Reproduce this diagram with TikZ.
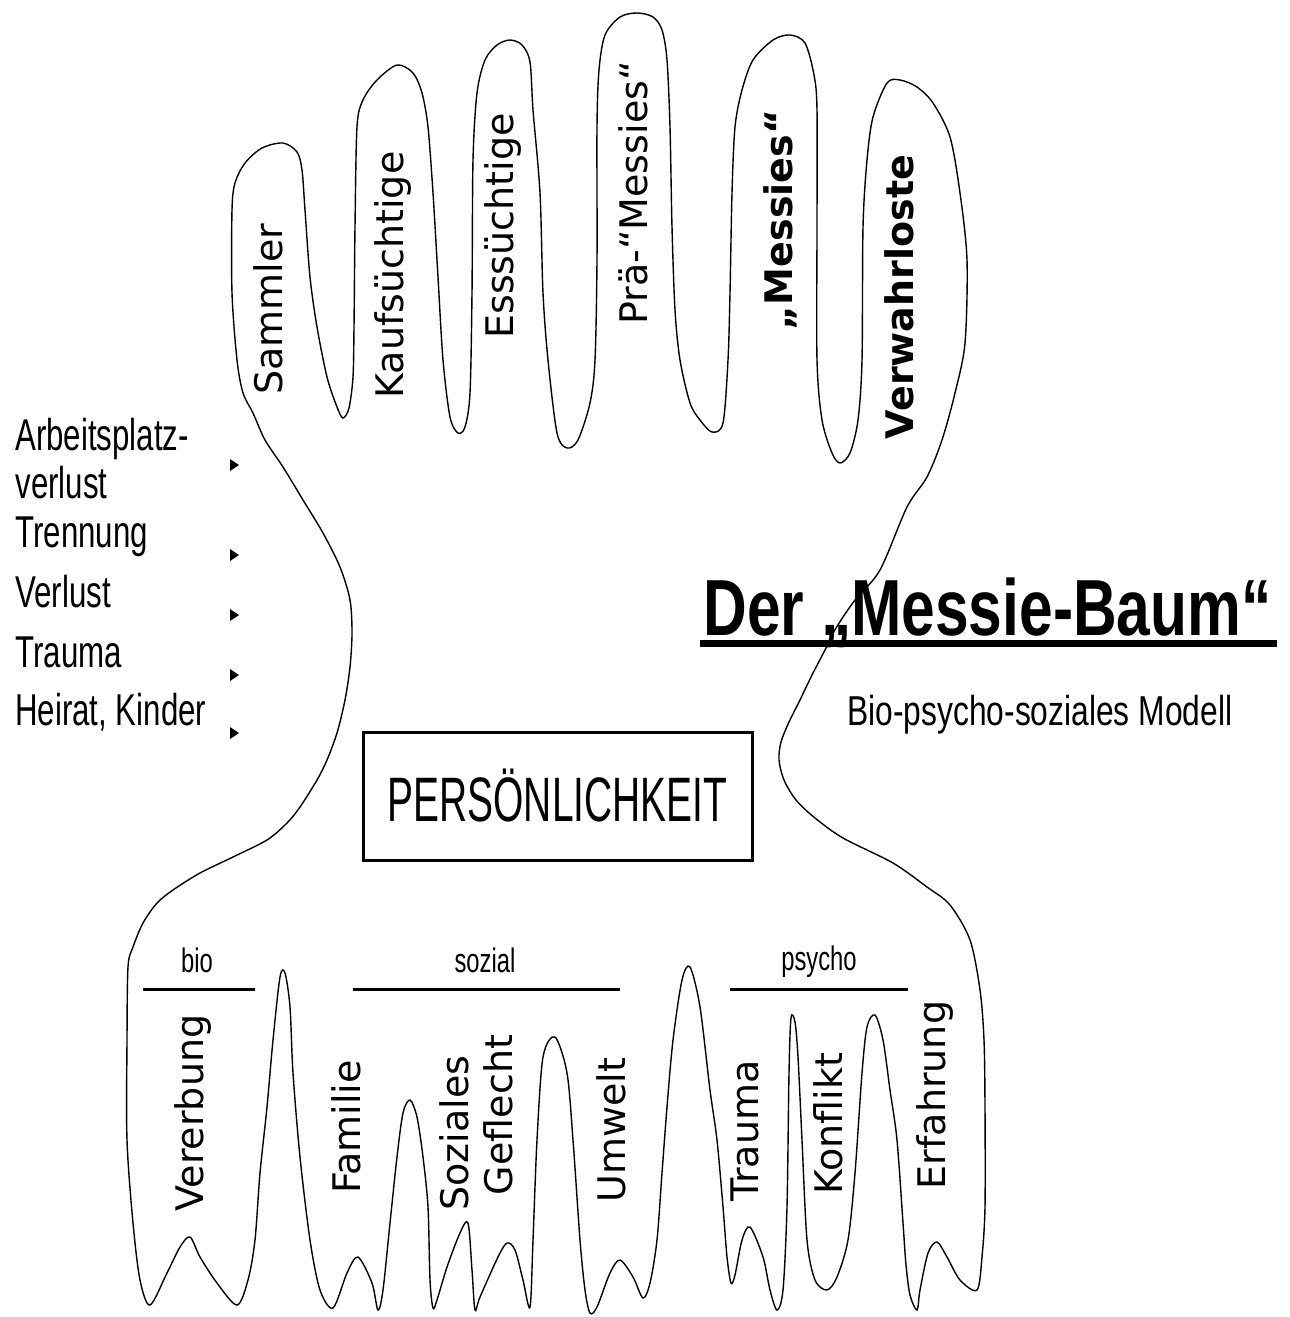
\documentclass[tikz,border=0pt]{standalone}
\usepackage{fontspec}
\newfontfamily\labelfont{DejaVu Sans}
\newfontfamily\condfont[FakeStretch=0.7]{Liberation Sans}
\newfontfamily\titlefont[FakeStretch=0.76]{Liberation Sans}
\newfontfamily\boxfont[FakeStretch=0.62]{Liberation Sans}
\usepackage{tikz}
\usetikzlibrary{positioning}
\tikzset{
  finger/.style={rotate=90, anchor=base, inner sep=0pt, font=\labelfont\fontsize{19}{22}\selectfont},
  boldfinger/.style={finger, font=\labelfont\bfseries\fontsize{19}{22}\selectfont},
  event/.style={anchor=base west, inner sep=0pt, align=left, font=\condfont\fontsize{22.3}{24}\selectfont},
  group/.style={anchor=base, inner sep=0pt, font=\condfont\fontsize{17}{20}\selectfont},
  outline/.style={line width=0.7pt},
}

\begin{document}
\begin{tikzpicture}[x=0.5pt, y=-0.5pt]
  \useasboundingbox (0,0) rectangle (1290,1317);

  % Tree outline
  \draw[outline] plot[smooth cycle, tension=0.5] coordinates {
    (127,1140) (127,1040) (128,967) (133,947) (143,923) (157,903) (173,890)
    (200,873) (233,857) (267,840) (287,823) (300,807) (317,780) (327,760)
    (337,733) (345,700) (350,667) (352,633) (350,600) (340,567) (323,533)
    (303,500) (283,467) (265,440) (253,413) (243,393) (237,360) (232,293)
    (232,210) (235,183) (245,163) (262,148) (283,143) (297,152) (302,170)
    (305,210) (310,277) (317,327) (327,377) (337,407) (343,418) (349,408)
    (353,377) (354,327) (355,227) (357,127) (363,100) (377,80) (397,65)
    (413,73) (422,93) (428,127) (433,193) (438,277) (443,360) (450,417)
    (458,433) (465,427) (470,393) (472,293) (473,160) (477,93) (485,60)
    (497,45) (510,40) (522,45) (530,62) (533,110) (540,193) (543,293)
    (548,360) (557,433) (567,448) (578,440) (590,403) (595,360) (597,260)
    (597,127) (599,70) (605,35) (620,17) (637,13) (653,17) (662,30)
    (667,60) (670,127) (672,227) (675,310) (680,360) (690,403) (700,420)
    (712,432) (723,423) (728,360) (730,293) (732,193) (735,127) (742,90)
    (753,60) (773,40) (790,35) (805,43) (814,75) (817,110) (817,227)
    (817,360) (822,420) (832,453) (840,463) (850,453) (858,420) (862,360)
    (863,227) (867,160) (873,117) (887,83) (900,80) (917,87) (933,103)
    (950,137) (960,193) (967,260) (965,343) (955,393) (942,440) (927,477)
    (907,507) (880,570) (855,600) (836,628) (825,650) (812,675) (800,700)
    (789,722) (781,742) (779,760) (784,780) (796,800) (815,818) (843,838)
    (893,863) (927,887) (950,905) (970,940) (980,990) (984,1040) (985,1107)
    (985,1207) (982,1257) (977,1290) (960,1280) (947,1257) (937,1242)
    (928,1253) (920,1290) (917,1310) (910,1295) (906,1265) (903,1223)
    (897,1140) (890,1090) (883,1040) (875,1015) (867,1027) (862,1073)
    (855,1173) (848,1240) (837,1277) (827,1290) (815,1280) (807,1240)
    (802,1140) (798,1057) (795,1022) (791,1018) (789,1073) (787,1207)
    (783,1290) (777,1310) (770,1290) (763,1257) (750,1227) (742,1240)
    (735,1275) (731,1283) (727,1257) (723,1207) (717,1140) (710,1090)
    (700,1007) (690,967) (682,980) (673,1040) (667,1107) (662,1173)
    (657,1240) (650,1283) (643,1298) (633,1277) (620,1260) (610,1273)
    (597,1307) (590,1313) (585,1290) (580,1240) (573,1140) (567,1073)
    (555,1037) (543,1057) (537,1140) (533,1240) (530,1307) (523,1280)
    (515,1250) (507,1243) (498,1257) (480,1297) (475,1310) (472,1270)
    (468,1223) (460,1233) (447,1267) (437,1300) (433,1308) (430,1280)
    (428,1207) (423,1157) (417,1117) (410,1100) (403,1113) (397,1157)
    (390,1223) (383,1290) (378,1310) (372,1283) (358,1257) (347,1273)
    (333,1308) (320,1290) (310,1240) (300,1157) (293,1073) (290,1007)
    (285,973) (280,977) (273,1040) (267,1107) (260,1173) (255,1240)
    (248,1280) (237,1305) (217,1283) (200,1257) (190,1237) (180,1247)
    (167,1273) (150,1305) (140,1280) (133,1223)
  };

  % Crown
  \node[finger] (sammler) at (282,309) {Sammler};
  \node[finger] (kauf) at (403,275) {Kaufsüchtige};
  \node[finger] (ess) at (513,226) {Esssüchtige};
  \node[finger] (prae) at (647,193) {Prä-“Messies“};
  \node[boldfinger] (messies) at (792,220) {„Messies“};
  \node[boldfinger] (verwahrlost) at (913,297) {Verwahrloste};

  % Life events
  \node[event, anchor=north west] (job) at (15,418) {Arbeitsplatz-\\verlust};
  \node[event] (trennung) at (15,547) {Trennung};
  \node[event] (verlust) at (15,607) {Verlust};
  \node[event] (trauma) at (15,667) {Trauma};
  \node[event] (heirat) at (15,725) {Heirat, Kinder};
  \foreach \y in {465,555,615,675,733}
    \fill (230,\y-6) -- (239,\y) -- (230,\y+6) -- cycle;

  % Title
  \node[anchor=base west, inner sep=0pt, font=\titlefont\bfseries\fontsize{39.8}{44}\selectfont]
    (title) at (703,635) {Der „Messie-Baum“};
  \draw[line width=3.5pt] (700,643) -- (1277,643);
  \node[anchor=base west, inner sep=0pt, font=\titlefont\fontsize{20.9}{24}\selectfont]
    (subtitle) at (847,725) {Bio-psycho-soziales Modell};

  % Trunk
  \node[draw, line width=1.5pt, minimum width=194.5pt, minimum height=64pt, inner sep=0pt,
    font=\boxfont\fontsize{31.4}{34}\selectfont] (person) at (557.5,796) {PERSÖNLICHKEIT};

  % Roots
  \node[group] (bio) at (197,972) {bio};
  \node[group] (sozial) at (485,972) {sozial};
  \node[group] (psycho) at (819,970) {psycho};
  \draw[line width=1.5pt] (143,989) -- (255,989);
  \draw[line width=1.5pt] (353,989) -- (620,989);
  \draw[line width=1.5pt] (730,989) -- (908,989);

  \node[finger] (vererbung) at (203,1113) {Vererbung};
  \node[finger] (familie) at (360,1127) {Familie};
  \node[finger] (soziales) at (468,1133) {Soziales};
  \node[finger] (geflecht) at (512,1115) {Geflecht};
  \node[finger] (umwelt) at (625,1130) {Umwelt};
  \node[finger] (rtrauma) at (758,1131) {Trauma};
  \node[finger] (konflikt) at (842,1124) {Konflikt};
  \node[finger] (erfahrung) at (945,1095) {Erfahrung};
\end{tikzpicture}
\end{document}
